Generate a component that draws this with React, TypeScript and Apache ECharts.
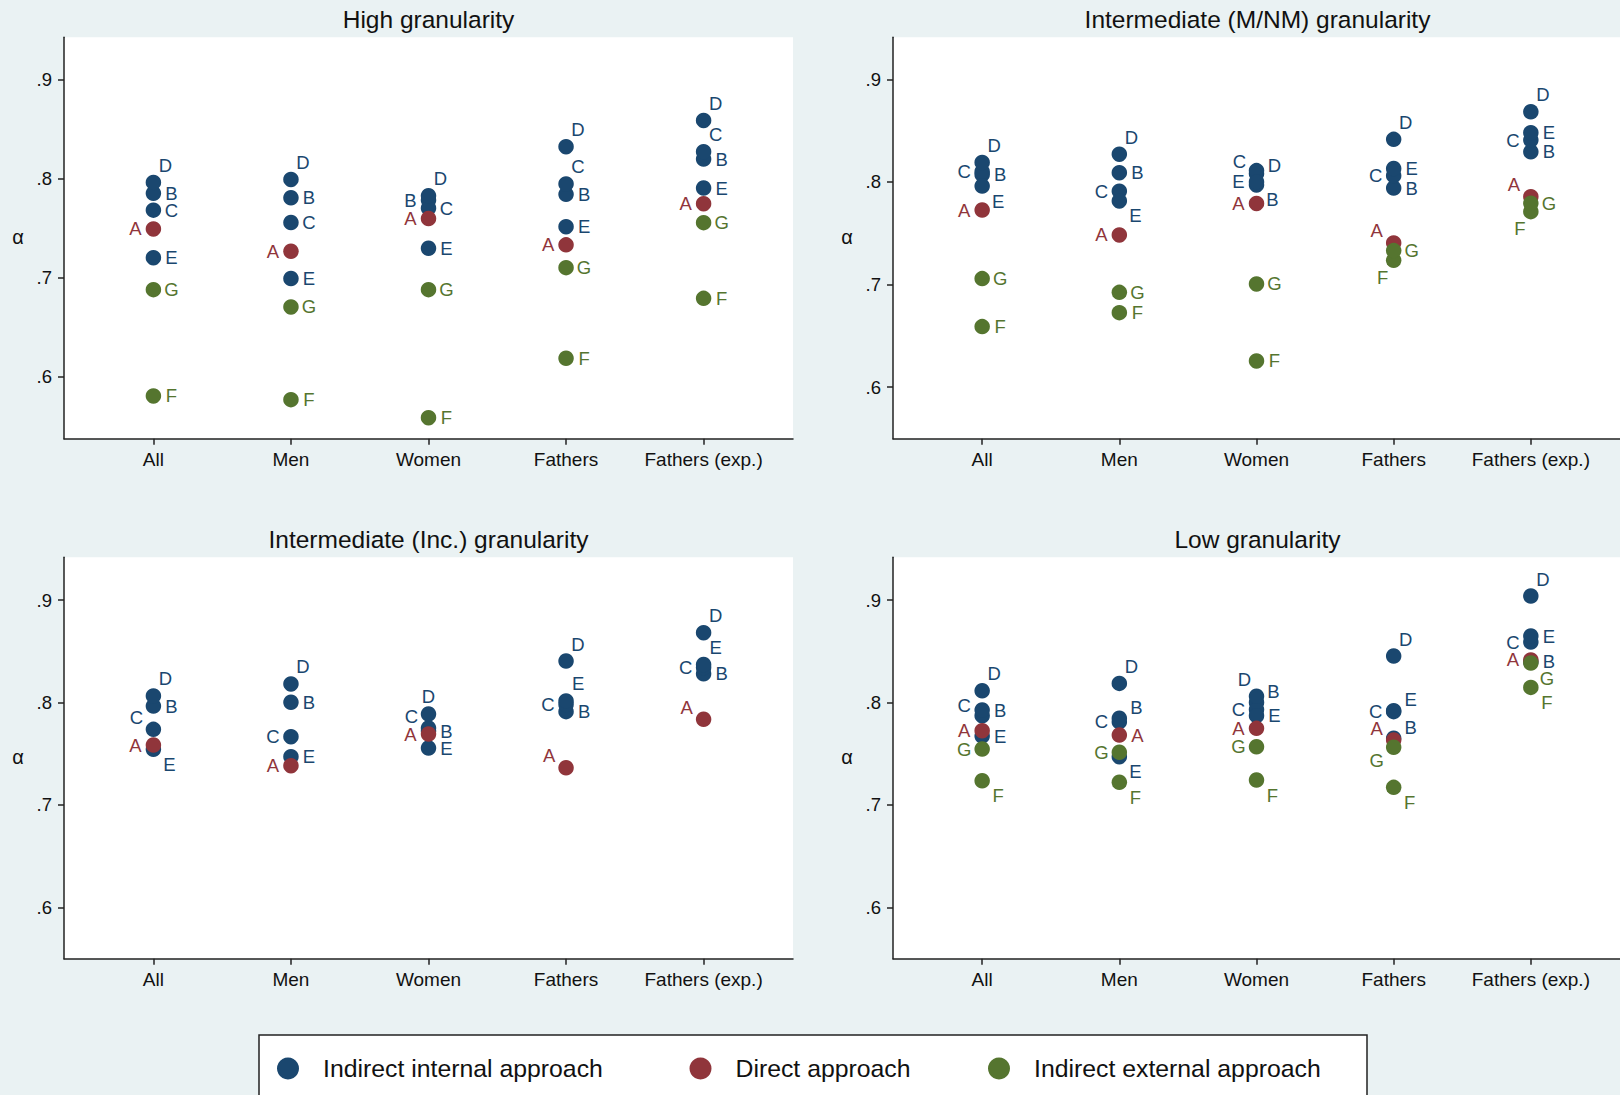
import React, { useEffect, useRef } from "react";
import * as echarts from "echarts";

const categories = ["All", "Men", "Women", "Fathers", "Fathers (exp.)"];
const categoryPositions = [1, 2, 3, 4, 5];
const yTickValues = [0.6, 0.7, 0.8, 0.9];
const panelTitles = [
  "High granularity",
  "Intermediate (M/NM) granularity",
  "Intermediate (Inc.) granularity",
  "Low granularity",
];
const seriesNames = [
  "Indirect internal approach",
  "Direct approach",
  "Indirect external approach",
];

// High granularity
const highA = [0.749, 0.7265, 0.7595, 0.733, 0.7745];
const highB = [0.785, 0.7805, 0.778, 0.784, 0.8195];
const highC = [0.768, 0.7555, 0.77, 0.7944, 0.827];
const highD = [0.796, 0.799, 0.7825, 0.832, 0.8585];
const highE = [0.72, 0.699, 0.7295, 0.7513, 0.7903];
const highF = [0.5805, 0.5768, 0.5586, 0.6185, 0.679];
const highG = [0.6878, 0.6703, 0.6878, 0.71, 0.7554];

// Intermediate (M/NM) granularity
const mnmA = [0.7726, 0.7483, 0.779, 0.7405, 0.7856];
const mnmB = [0.807, 0.809, 0.797, 0.794, 0.8294];
const mnmC = [0.81, 0.791, 0.808, 0.806, 0.8408];
const mnmD = [0.819, 0.827, 0.811, 0.8415, 0.8684];
const mnmE = [0.796, 0.7814, 0.8, 0.813, 0.848];
const mnmF = [0.6589, 0.6725, 0.6254, 0.7235, 0.771];
const mnmG = [0.7057, 0.6923, 0.7005, 0.733, 0.7791];

// Intermediate (Inc.) granularity
const incA = [0.7584, 0.7382, 0.7691, 0.7362, 0.7835];
const incB = [0.7965, 0.8001, 0.772, 0.791, 0.828];
const incC = [0.7737, 0.7665, 0.775, 0.798, 0.834];
const incD = [0.8063, 0.818, 0.7887, 0.8404, 0.8681];
const incE = [0.7542, 0.747, 0.7555, 0.8015, 0.837];

// Low granularity
const lowA = [0.7724, 0.7682, 0.7747, 0.7633, 0.8415];
const lowB = [0.787, 0.7845, 0.8, 0.765, 0.8395];
const lowC = [0.7926, 0.781, 0.793, 0.791, 0.859];
const lowD = [0.8114, 0.8186, 0.806, 0.8453, 0.9039];
const lowE = [0.7672, 0.747, 0.787, 0.792, 0.8648];
const lowF = [0.7235, 0.722, 0.7242, 0.7171, 0.8147];
const lowG = [0.7545, 0.7513, 0.7567, 0.7562, 0.8385];

// axis ranges (scale settings)
const yRanges = [
  [0.5374, 0.9424],
  [0.5496, 0.941],
  [0.5498, 0.9417],
  [0.5498, 0.9417],
];

// ---- styling / layout (not data) ----
const FONT = '"Liberation Sans", Arial, Helvetica, sans-serif';
const COLORS = ["#1a476f", "#90353b", "#55752f"];
const AXIS_COLOR = "#222";

const OFFSETS: Record<string, [number, number]> = {
  r: [18, 0],
  l: [-18, 0],
  ru: [18, -5],
  lu: [-18, -5],
  ur: [12, -17],
  ul: [-12, -17],
  ur2: [17, -11],
  ul2: [-17, -12],
  dr: [16, 15],
  dl: [-11, 17],
  dl2: [-17, 13],
  t: [0, -18],
};

const highPos: Record<string, string[]> = {
  A: ["l", "l", "l", "l", "l"],
  B: ["r", "r", "l", "r", "r"],
  C: ["r", "r", "r", "ur", "ur"],
  D: ["ur", "ur", "ur", "ur", "ur"],
  E: ["r", "r", "r", "r", "r"],
  F: ["r", "r", "r", "r", "r"],
  G: ["r", "r", "r", "r", "r"],
};
const mnmPos: Record<string, string[]> = {
  A: ["l", "l", "l", "ul2", "ul2"],
  B: ["r", "r", "dr", "r", "r"],
  C: ["l", "l", "ul2", "l", "l"],
  D: ["ur", "ur", "ru", "ur", "ur"],
  E: ["dr", "dr", "l", "r", "r"],
  F: ["r", "r", "r", "dl", "dl"],
  G: ["r", "r", "r", "r", "r"],
};
const incPos: Record<string, string[]> = {
  A: ["l", "l", "l", "ul2", "ul2"],
  B: ["r", "r", "r", "r", "r"],
  C: ["ul2", "l", "ul2", "l", "l"],
  D: ["ur", "ur", "t", "ur", "ur"],
  E: ["dr", "r", "r", "ur", "ur"],
};
const lowPos: Record<string, string[]> = {
  A: ["l", "r", "l", "ul2", "l"],
  B: ["ru", "ur2", "ur2", "ur2", "r"],
  C: ["lu", "l", "l", "l", "l"],
  D: ["ur", "ur", "ul", "ur", "ur"],
  E: ["r", "dr", "r", "ur2", "r"],
  F: ["dr", "dr", "dr", "dr", "dr"],
  G: ["l", "l", "l", "dl2", "dr"],
};

const panels = [
  {
    values: { A: highA, B: highB, C: highC, D: highD, E: highE, F: highF, G: highG } as Record<string, number[]>,
    pos: highPos,
  },
  {
    values: { A: mnmA, B: mnmB, C: mnmC, D: mnmD, E: mnmE, F: mnmF, G: mnmG } as Record<string, number[]>,
    pos: mnmPos,
  },
  {
    values: { A: incA, B: incB, C: incC, D: incD, E: incE } as Record<string, number[]>,
    pos: incPos,
  },
  {
    values: { A: lowA, B: lowB, C: lowC, D: lowD, E: lowE, F: lowF, G: lowG } as Record<string, number[]>,
    pos: lowPos,
  },
];

const groupLetters = [["B", "C", "D", "E"], ["A"], ["F", "G"]];

const gridPos = [
  { left: 64, top: 37.3, width: 729, height: 401.4 },
  { left: 893, top: 37.3, width: 729, height: 401.4 },
  { left: 64, top: 557.3, width: 729, height: 401.4 },
  { left: 893, top: 557.3, width: 729, height: 401.4 },
];

function buildOption() {
  const grid = gridPos.map((g) => ({
    ...g,
    show: true,
    backgroundColor: "#ffffff",
    borderWidth: 0,
  }));

  const xAxis = gridPos.map((_, i) => ({
    type: "value",
    gridIndex: i,
    min: 0.35,
    max: 5.65,
    splitLine: { show: false },
    axisLine: { show: true, onZero: false, lineStyle: { color: AXIS_COLOR, width: 1.5 } },
    axisTick: {
      show: true,
      length: 6,
      customValues: categoryPositions,
      lineStyle: { color: AXIS_COLOR, width: 1.5 },
    },
    axisLabel: {
      customValues: categoryPositions,
      formatter: (v: number) => categories[Math.round(v) - 1] ?? "",
      fontSize: 19,
      fontFamily: FONT,
      color: "#111",
      margin: 11,
    },
  }));

  const yAxis = gridPos.map((_, i) => ({
    type: "value",
    gridIndex: i,
    min: yRanges[i][0],
    max: yRanges[i][1],
    splitLine: { show: false },
    axisLine: { show: true, onZero: false, lineStyle: { color: AXIS_COLOR, width: 1.5 } },
    axisTick: {
      show: true,
      length: 6,
      customValues: yTickValues,
      lineStyle: { color: AXIS_COLOR, width: 1.5 },
    },
    axisLabel: {
      customValues: yTickValues,
      formatter: (v: number) => v.toFixed(1).replace(/^0/, ""),
      fontSize: 18.5,
      fontFamily: FONT,
      color: "#111",
      margin: 12,
    },
  }));

  const series: any[] = [];
  panels.forEach((panel, p) => {
    groupLetters.forEach((letters, g) => {
      const data: any[] = [];
      letters.forEach((letter) => {
        const vals = panel.values[letter];
        if (!vals) return;
        vals.forEach((v, ci) => {
          data.push({
            name: letter,
            value: [categoryPositions[ci], v],
            label: { offset: OFFSETS[panel.pos[letter][ci]] },
          });
        });
      });
      series.push({
        type: "scatter",
        name: seriesNames[g],
        xAxisIndex: p,
        yAxisIndex: p,
        symbol: "circle",
        symbolSize: 15.5,
        itemStyle: { color: COLORS[g], opacity: 1 },
        label: {
          show: true,
          position: "inside",
          formatter: "{b}",
          color: COLORS[g],
          fontSize: 18.5,
          fontFamily: FONT,
        },
        emphasis: { disabled: true },
        data,
      });
    });
  });

  const graphic: any[] = [];
  gridPos.forEach((g, i) => {
    graphic.push({
      type: "text",
      x: g.left + 364.5,
      y: g.top - 18.3,
      style: {
        text: panelTitles[i],
        fontSize: 24.5,
        fontFamily: FONT,
        fill: "#111",
        align: "center",
        verticalAlign: "middle",
      },
    });
    graphic.push({
      type: "text",
      x: g.left - 46,
      y: g.top + g.height / 2 - 1,
      style: {
        text: "α",
        fontSize: 20,
        fontFamily: FONT,
        fill: "#111",
        align: "center",
        verticalAlign: "middle",
      },
    });
  });
  graphic.push({
    type: "rect",
    shape: { x: 259, y: 1035, width: 1108, height: 100 },
    style: { fill: "#ffffff", stroke: "#222", lineWidth: 1.5 },
    z: -1,
  });

  const legendLefts = [277, 689.5, 988];
  const legend = seriesNames.map((n, i) => ({
    data: [n],
    left: legendLefts[i],
    top: 1056,
    padding: 0,
    icon: "circle",
    itemWidth: 60,
    itemHeight: 22,
    selectedMode: false,
    textStyle: { fontSize: 24.8, fontFamily: FONT, color: "#111", lineHeight: 22 },
  }));

  return {
    animation: false,
    backgroundColor: "#eaf2f3",
    grid,
    xAxis,
    yAxis,
    series,
    legend,
    graphic,
  };
}

export default function App() {
  const ref = useRef<HTMLDivElement>(null);
  useEffect(() => {
    document.body.style.margin = "0";
    if (!ref.current) return;
    const chart = echarts.init(ref.current, undefined, { renderer: "svg" });
    chart.setOption(buildOption() as any);
    return () => chart.dispose();
  }, []);
  return <div ref={ref} style={{ width: 1620, height: 1095 }} />;
}
